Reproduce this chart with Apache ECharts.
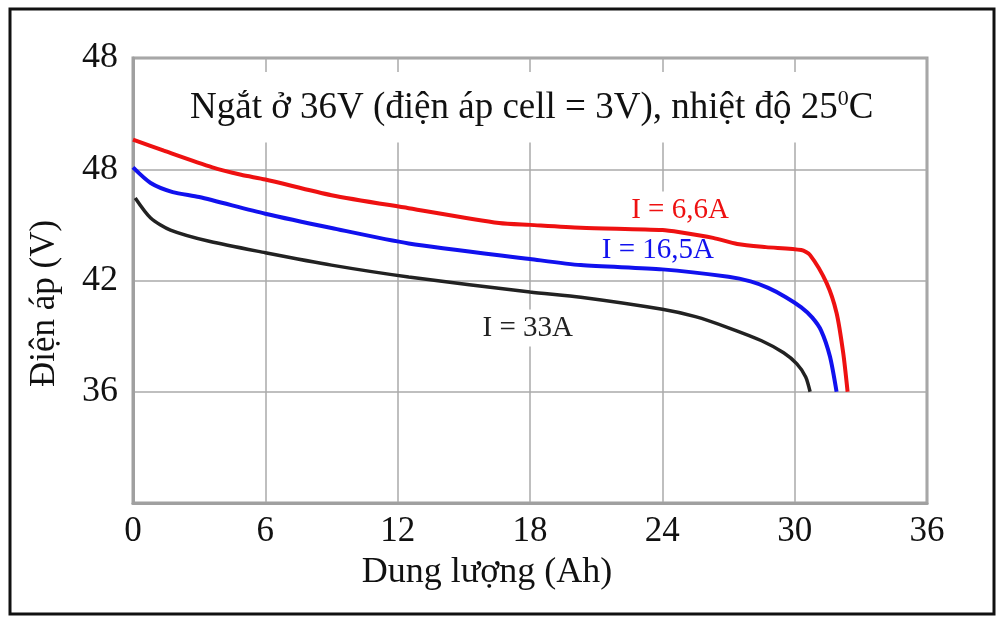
<!DOCTYPE html>
<html>
<head>
<meta charset="utf-8">
<title>Điện áp theo dung lượng</title>
<script src="https://cdn.jsdelivr.net/npm/echarts@6/dist/echarts.min.js"></script>
<style>
    html, body { margin: 0; padding: 0; background: #fff; }
    #chart { width: 997px; height: 617px; }
</style>
</head>
<body>
<div id="chart"></div>
<script>
// dung lượng (Ah) / điện áp (V)
const red66A = [
    [0, 49.6], [1.4, 49.0], [3.6, 48.1], [4.9, 47.7], [6, 47.45], [9, 46.6],
    [12.5, 45.9], [16.6, 45.1], [18, 45.0], [20.3, 44.85], [24, 44.72],
    [24.8, 44.6], [26.3, 44.3], [27.4, 43.97], [28.7, 43.8], [30.3, 43.64],
    [30.7, 43.37], [31.45, 41.86], [31.9, 40.25], [32.2, 38.1], [32.4, 36]
];
const blue165A = [
    [0, 48.1], [0.8, 47.26], [1.8, 46.77], [3.0, 46.5], [6, 45.6], [9, 44.83],
    [12.5, 44.0], [18, 43.16], [20.3, 42.83], [24, 42.6], [27.0, 42.2],
    [28.0, 41.95], [28.8, 41.6], [29.6, 41.1], [30.3, 40.55], [30.8, 40.0],
    [31.2, 39.3], [31.6, 37.9], [31.9, 36]
];
const black33A = [
    [0.1, 46.45], [0.8, 45.37], [1.7, 44.72], [3.5, 44.1], [6, 43.5], [9, 42.83],
    [12.5, 42.19], [18, 41.38], [20.3, 41.1], [24, 40.45], [25.5, 40.05],
    [27, 39.45], [28.5, 38.75], [29.5, 38.1], [30.1, 37.5], [30.5, 36.8], [30.7, 36]
];

const seriesNames = ['I = 6,6A', 'I = 16,5A', 'I = 33A'];
const seriesColors = ['#ee1111', '#1111ee', '#222222'];
// where each curve label sits, in data units
const labelCoords = [[24.8, 45.8], [23.8, 43.62], [17.9, 39.44]];

const xTicks = [0, 6, 12, 18, 24, 30, 36];
const yTickValues = [30, 36, 42, 48, 54];
const yTickLabels = ['', '36', '42', '48', '48'];

const FONT = "'Liberation Serif', 'Times New Roman', serif";

function buildSeries(data, index) {
    return {
        name: seriesNames[index],
        type: 'line',
        z: 3,
        data: data,
        smooth: 0.25,
        showSymbol: false,
        symbol: 'none',
        lineStyle: { color: seriesColors[index], width: index === 2 ? 3.5 : 4 }
    };
}

// curve labels sit under the lines, their white box only hides the grid
function buildLabelSeries() {
    return {
        type: 'scatter',
        z: 1,
        silent: true,
        symbolSize: 0,
        itemStyle: { opacity: 1 },
        data: labelCoords.map((coord, i) => ({
            value: coord,
            label: { color: seriesColors[i], formatter: seriesNames[i] }
        })),
        label: {
            show: true,
            position: 'inside',
            fontFamily: FONT,
            fontSize: 29,
            backgroundColor: '#fff',
            padding: [4, 4]
        }
    };
}

const chart = echarts.init(document.getElementById('chart'));

chart.setOption({
    backgroundColor: '#fff',
    animation: false,
    title: {
        text: '{m|Ngắt ở 36V (điện áp cell = 3V), nhiệt độ 25}{s|0}{m|C}',
        left: 180,
        top: 72,
        padding: [16, 10],
        backgroundColor: '#fff',
        textStyle: {
            rich: {
                m: { fontFamily: FONT, fontSize: 37, fontWeight: 'normal', color: '#111', lineHeight: 40 },
                s: { fontFamily: FONT, fontSize: 22, fontWeight: 'normal', color: '#111', padding: [0, 0, 18, 0] }
            }
        }
    },
    grid: {
        left: 133,
        right: 70,
        top: 58,
        bottom: 114,
        show: true,
        borderColor: '#a0a0a0',
        borderWidth: 3,
        backgroundColor: 'transparent'
    },
    xAxis: {
        type: 'value',
        min: xTicks[0],
        max: xTicks[xTicks.length - 1],
        interval: 6,
        name: 'Dung lượng (Ah)',
        nameLocation: 'middle',
        nameGap: 52,
        nameTextStyle: { fontFamily: FONT, fontSize: 36, color: '#111', padding: [0, 86, 0, 0] },
        axisLine: { show: true, lineStyle: { color: '#a0a0a0', width: 3 } },
        axisTick: { show: false },
        axisLabel: { fontFamily: FONT, fontSize: 35, color: '#111', margin: 11 },
        splitLine: { show: true, lineStyle: { color: '#aaaaaa', width: 1.5 } }
    },
    yAxis: {
        type: 'value',
        min: yTickValues[0],
        max: yTickValues[yTickValues.length - 1],
        interval: 6,
        name: 'Điện áp (V)',
        nameLocation: 'middle',
        nameGap: 71,
        nameTextStyle: { fontFamily: FONT, fontSize: 35, color: '#111', padding: [0, 46, 0, 0] },
        axisLine: { show: true, lineStyle: { color: '#a0a0a0', width: 3 } },
        axisTick: { show: false },
        axisLabel: {
            fontFamily: FONT,
            fontSize: 36,
            color: '#111',
            margin: 15,
            formatter: (value) => yTickLabels[yTickValues.indexOf(value)] || ''
        },
        splitLine: { show: true, lineStyle: { color: '#aaaaaa', width: 1.5 } }
    },
    graphic: [
        {
            type: 'rect',
            silent: true,
            shape: { x: 10, y: 9, width: 984, height: 605 },
            style: { fill: 'none', stroke: '#111', lineWidth: 3 }
        }
    ],
    series: [red66A, blue165A, black33A].map(buildSeries).concat(buildLabelSeries())
});
</script>
</body>
</html>
